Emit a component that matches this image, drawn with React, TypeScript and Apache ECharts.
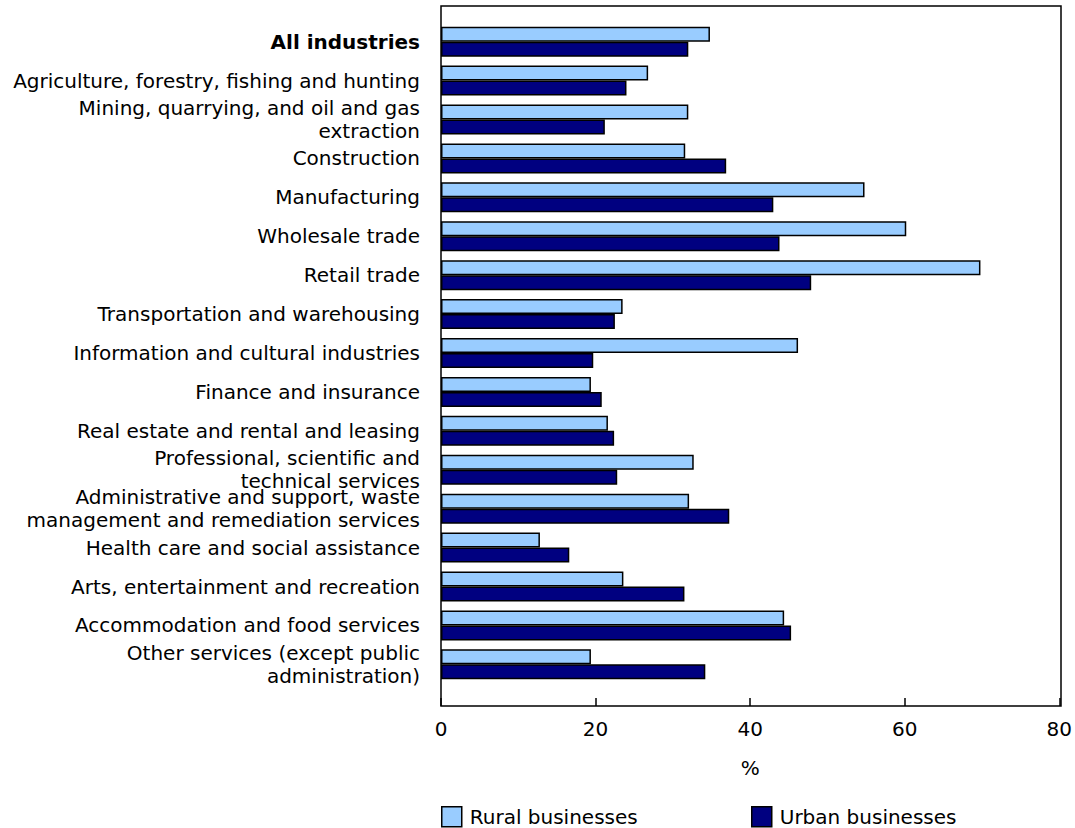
import React, { useEffect, useRef } from "react";
import * as echarts from "echarts";

const categories = [
  "All industries",
  "Agriculture, forestry, fishing and hunting",
  "Mining, quarrying, and oil and gas\nextraction",
  "Construction",
  "Manufacturing",
  "Wholesale trade",
  "Retail trade",
  "Transportation and warehousing",
  "Information and cultural industries",
  "Finance and insurance",
  "Real estate and rental and leasing",
  "Professional, scientific and\ntechnical services",
  "Administrative and support, waste\nmanagement and remediation services",
  "Health care and social assistance",
  "Arts, entertainment and recreation",
  "Accommodation and food services",
  "Other services (except public\nadministration)",
];

const rural = [34.8, 26.8, 32.0, 31.6, 54.8, 60.2, 69.8, 23.5, 46.2, 19.4, 21.6, 32.7, 32.1, 12.8, 23.6, 44.4, 19.4];
const urban = [32.0, 24.0, 21.2, 36.9, 43.0, 43.8, 47.9, 22.5, 19.7, 20.8, 22.4, 22.8, 37.3, 16.6, 31.5, 45.3, 34.2];

const seriesNames = ["Rural businesses", "Urban businesses"];
const xAxisName = "%";

const FONT = "'DejaVu Sans', Verdana, sans-serif";
const LIGHT = "#99CCFF";
const DARK = "#000080";

export default function App() {
  const ref = useRef<HTMLDivElement>(null);
  useEffect(() => {
    document.body.style.margin = "0";
    document.body.style.overflow = "hidden";
    const chart = echarts.init(ref.current!, undefined, { renderer: "svg" });
    const gridLeft = 441;
    const gridRight = 1075 - 1061;
    const gridTop = 22.2;
    const gridBottomPx = 683.8;
    const frameTop = 6;
    const frameBottom = 706;
    const legendBase = {
      top: 806,
      padding: 0,
      icon: "rect",
      itemWidth: 20,
      itemHeight: 20,
      itemStyle: { borderColor: "#000", borderWidth: 1.5 },
      textStyle: { fontSize: 20, color: "#000", fontFamily: FONT, padding: [0, 0, 0, 3] },
    };
    chart.setOption({
      animation: false,
      textStyle: { fontFamily: FONT, color: "#000" },
      grid: {
        left: gridLeft,
        right: gridRight,
        top: gridTop,
        bottom: 828 - gridBottomPx,
        containLabel: false,
      },
      graphic: [
        {
          type: "rect",
          shape: { x: gridLeft, y: frameTop, width: 1061 - gridLeft, height: frameBottom - frameTop },
          style: { fill: "none", stroke: "#000", lineWidth: 1.5 },
          z: 10,
          silent: true,
        },
      ],
      xAxis: {
        type: "value",
        min: 0,
        max: 80,
        interval: 20,
        offset: frameBottom - gridBottomPx,
        axisLine: { show: false },
        axisTick: { show: true, inside: true, length: 8, lineStyle: { color: "#000", width: 1.5 } },
        splitLine: { show: false },
        axisLabel: { fontSize: 20, color: "#000", fontFamily: FONT, margin: 13 },
        name: xAxisName,
        nameLocation: "middle",
        nameGap: 52,
        nameTextStyle: { fontSize: 20, color: "#000", fontFamily: FONT },
      },
      yAxis: {
        type: "category",
        data: categories,
        inverse: true,
        axisLine: { show: false },
        axisTick: { show: false },
        axisLabel: {
          fontSize: 20,
          lineHeight: 23,
          color: "#000",
          fontFamily: FONT,
          margin: 21,
          interval: 0,
          formatter: (v: string, i: number) => (i === 0 ? `{b|${v}}` : v),
          rich: {
            b: { fontWeight: "bold", fontSize: 20, fontFamily: FONT, color: "#000", lineHeight: 23 },
          },
        },
      },
      legend: [
        { ...legendBase, data: [seriesNames[0]], left: 441 },
        { ...legendBase, data: [seriesNames[1]], left: 751 },
      ],
      series: [
        {
          name: seriesNames[0],
          type: "bar",
          data: rural,
          barGap: "0%",
          barCategoryGap: "22.9%",
          itemStyle: { color: LIGHT, borderColor: "#000", borderWidth: 1.5 },
        },
        {
          name: seriesNames[1],
          type: "bar",
          data: urban,
          barGap: "0%",
          barCategoryGap: "22.9%",
          itemStyle: { color: DARK, borderColor: "#000", borderWidth: 1.5 },
        },
      ],
    });
    return () => chart.dispose();
  }, []);
  return <div ref={ref} style={{ width: 1075, height: 828 }} />;
}
